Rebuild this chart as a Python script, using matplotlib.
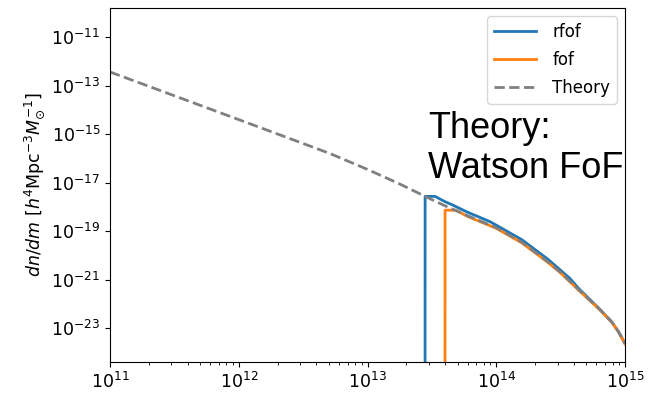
import matplotlib
matplotlib.use("Agg")
import matplotlib.pyplot as plt
from matplotlib.ticker import NullLocator

# theory curve (Watson FoF)
theory_mass = [1e11, 3.16e11, 1e12, 3.16e12, 5.12e12, 1e13, 1.78e13, 2.8e13,
               4.0e13, 5.93e13, 1e14, 1.58e14, 2.51e14, 3.16e14, 4.34e14,
               6.31e14, 7.88e14, 8.91e14, 1e15]
theory_dndm = [3.72e-13, 3.89e-14, 4.03e-15, 4.17e-16, 1.60e-16, 3.55e-17,
               8.9e-18, 2.75e-18, 1.12e-18, 4.47e-19, 1.41e-19, 3.55e-20,
               5.6e-21, 2.0e-21, 3.98e-22, 6.3e-23, 1.82e-23, 7.1e-24, 2.34e-24]

# rfof halo mass function
rfof_mass = [2.5e13, 2.8e13, 3.34e13, 4.0e13, 4.6e13, 5.9e13, 8.9e13, 1e14,
             1.58e14, 2.51e14, 3.74e14, 4.34e14, 6.31e14, 7.88e14, 8.91e14, 1e15]
rfof_dndm = [0, 2.75e-18, 2.75e-18, 1.66e-18, 1.20e-18, 6.3e-19, 2.51e-19,
             1.78e-19, 4.47e-20, 7.1e-21, 1.12e-21, 4.47e-22, 6.3e-23,
             1.82e-23, 7.1e-24, 2.34e-24]

# fof halo mass function
fof_mass = [3.6e13, 4.0e13, 4.86e13, 5.93e13, 1e14, 1.58e14, 2.51e14, 3.16e14,
            4.34e14, 6.31e14, 7.88e14, 8.91e14, 1e15]
fof_dndm = [0, 7.4e-19, 7.4e-19, 4.17e-19, 1.32e-19, 3.31e-20, 5.25e-21,
            1.91e-21, 3.8e-22, 6.0e-23, 1.78e-23, 6.9e-24, 2.24e-24]

yticks = [1e-23, 1e-21, 1e-19, 1e-17, 1e-15, 1e-13, 1e-11]

fig = plt.figure(figsize=(6.48, 3.94), dpi=100)
ax = fig.add_axes([0.1698, 0.082, 0.7948, 0.8977])

ax.set_xscale("log")
ax.set_yscale("log", nonpositive="clip")
ax.plot(rfof_mass, rfof_dndm, color="tab:blue", lw=2, label="rfof")
ax.plot(fof_mass, fof_dndm, color="tab:orange", lw=2, label="fof")
ax.plot(theory_mass, theory_dndm, color="gray", lw=2, ls="--", label="Theory")

ax.set_xlim(1e11, 1e15)
ax.set_ylim(10**-24.38, 10**-9.79)
ax.set_yticks(yticks)
ax.yaxis.set_minor_locator(NullLocator())
ax.tick_params(labelsize=12.5)
ax.set_ylabel(r"$dn/dm$ [$h^4$Mpc$^{-3}M_{\odot}^{-1}$]", fontsize=12.5,
              labelpad=3)
ax.legend(loc="upper right", fontsize=12, handlelength=2.5,
          handletextpad=1.0, labelspacing=0.6)

fig.text(428 / 648, 0.6497, "Theory:", fontsize=26, family="Liberation Sans",
         va="baseline")
fig.text(428 / 648, 0.5482, "Watson FoF", fontsize=26, family="Liberation Sans",
         va="baseline")

fig.savefig("out.png", dpi=100)
